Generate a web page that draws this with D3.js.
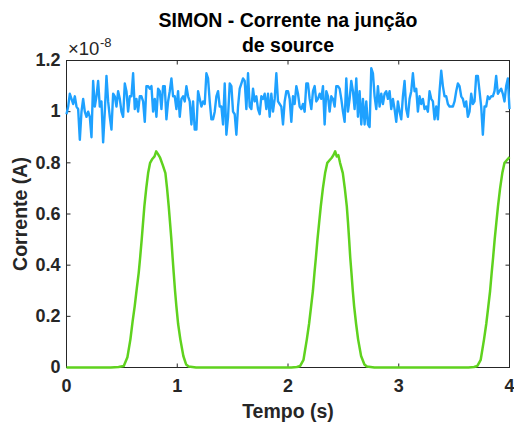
<!DOCTYPE html>
<html lang="pt">
  <head>
    <meta charset="utf-8" />
    <script src="https://d3js.org/d3.v7.min.js"></script>
    <style>
      body {
        margin: 0;
        background: #fff;
      }
      text {
        font-family: "Liberation Sans", Arial, sans-serif;
      }
    </style>
    <title>SIMON - Corrente na junção de source</title>
  </head>

  <body>
    <svg id="chart" width="514" height="424"></svg>

    <script>
      // values in units of 1e-8 A (axis shows x10^-8)
      const xTicks = [0, 1, 2, 3, 4];
      const yTicks = [0, 0.2, 0.4, 0.6, 0.8, 1, 1.2];
      const tEnd = 4;

      // blue: noisy current, evenly sampled from t = 0 to t = 4 s
      const blueCurrent = [
        0.99, 1.02, 1.07, 1.05, 1.03, 1.06, 1.02, 1.01, 0.89, 1.00,
        1.05, 1.00, 0.98, 1.00, 0.98, 0.90, 1.12, 1.02, 1.06, 1.12,
        1.02, 1.04, 0.88, 1.00, 1.14, 1.04, 0.98, 0.93, 1.07, 1.06,
        1.02, 1.08, 1.05, 1.00, 0.98, 1.11, 1.08, 1.00, 1.06, 1.06,
        1.15, 1.01, 1.05, 1.00, 1.06, 1.06, 1.04, 0.96, 1.10, 1.10,
        1.09, 1.10, 1.00, 1.05, 0.98, 1.09, 1.08, 1.01, 1.10, 1.10,
        0.97, 1.04, 1.08, 1.13, 1.06, 1.06, 1.01, 1.08,
        0.98, 1.05, 1.06, 1.04, 1.10, 1.06, 1.04, 0.95, 1.04, 0.93,
        0.93, 1.08, 1.05, 1.02, 1.04, 1.03, 1.15, 1.13, 1.04, 0.97,
        0.97, 1.00, 1.06, 1.08, 1.02, 1.02, 0.95, 1.11, 0.91, 0.98,
        1.11, 1.10, 1.00, 0.99, 0.91, 1.02, 1.09, 1.11, 1.13, 1.12,
        1.01, 1.15, 1.02, 1.01, 1.09, 1.04, 1.06, 1.01, 0.99, 1.06,
        1.05, 1.07, 1.01, 1.07, 0.98, 1.07, 1.00, 1.05, 1.15, 1.04,
        1.03, 1.02, 0.95, 1.04, 1.08, 1.08,
        1.05, 0.96, 1.06, 1.03, 1.10, 1.07, 1.02, 1.01, 1.03, 1.00,
        1.11, 1.11, 1.05, 1.01, 1.08, 1.10, 1.04, 1.05, 1.07, 1.05,
        1.10, 0.95, 1.08, 1.06, 1.00, 1.06, 1.05, 1.02, 1.10, 1.10,
        1.09, 1.05, 1.00, 0.96, 1.13, 1.00, 1.05, 1.12, 1.08, 1.01,
        1.13, 0.98, 1.08, 0.95, 1.05, 0.95, 1.04, 0.95, 0.94, 1.17,
        1.15, 1.06, 1.01, 1.10, 1.02, 1.07, 1.03, 1.07, 1.08, 1.05,
        1.08, 1.01, 1.05, 1.01, 0.96, 1.04,
        1.00, 0.97, 1.06, 1.12, 1.01, 0.98, 1.05, 1.08, 1.15, 1.08,
        1.09, 1.00, 1.06, 1.03, 1.05, 1.01, 1.02, 1.00, 1.08, 1.05,
        1.04, 0.97, 1.02, 0.97, 1.08, 1.16, 1.10, 1.06, 1.06, 1.03,
        1.02, 1.02, 1.02, 1.04, 1.08, 1.11, 1.10, 1.06, 1.05, 1.02,
        1.04, 0.98, 1.00, 1.07, 1.03, 1.04, 1.14, 1.14, 1.08, 1.02,
        0.91, 1.02, 1.02, 1.06, 1.05, 1.06, 1.06, 1.08, 1.14, 1.07,
        1.08, 1.09, 1.07, 1.04, 1.10, 1.13, 1.01,
      ];

      // green: pulses (time in s, current in 1e-8 A)
      const greenTime = [
        0, 0.4, 0.47, 0.517, 0.55, 0.577, 0.597, 0.616, 0.635, 0.652,
        0.665, 0.679, 0.691, 0.703, 0.72, 0.737, 0.755, 0.775, 0.795, 0.81,
        0.825, 0.845, 0.87, 0.893, 0.908, 0.923, 0.935, 0.947, 0.958, 0.968,
        0.98, 0.992, 1.008, 1.028, 1.055, 1.08, 1.103, 1.17,
        2.03, 2.08, 2.11, 2.14, 2.17, 2.19, 2.209, 2.225, 2.239, 2.252,
        2.266, 2.281, 2.296, 2.315, 2.335, 2.355, 2.375, 2.395, 2.41, 2.426,
        2.44, 2.455, 2.47, 2.495, 2.513, 2.531, 2.542, 2.552, 2.562, 2.573,
        2.585, 2.597, 2.615, 2.633, 2.66, 2.69, 2.712, 2.78,
        3.63, 3.68, 3.71, 3.74, 3.77, 3.79, 3.809, 3.825, 3.839, 3.852,
        3.866, 3.881, 3.896, 3.915, 3.935, 3.955, 3.975, 3.995, 4.0,
      ];
      const greenCurrent = [
        0, 0, 0.002, 0.006, 0.04, 0.11, 0.18, 0.24, 0.31, 0.37,
        0.43, 0.5, 0.565, 0.63, 0.7, 0.76, 0.8, 0.815, 0.825, 0.845,
        0.835, 0.82, 0.79, 0.76, 0.7, 0.63, 0.565, 0.5, 0.43, 0.37,
        0.3, 0.24, 0.17, 0.11, 0.045, 0.012, 0.004, 0,
        0, 0.002, 0.006, 0.03, 0.11, 0.17, 0.24, 0.3, 0.37, 0.43,
        0.5, 0.565, 0.63, 0.7, 0.76, 0.8, 0.81, 0.82, 0.83, 0.845,
        0.825, 0.83, 0.8, 0.76, 0.7, 0.63, 0.565, 0.5, 0.43, 0.37,
        0.3, 0.24, 0.17, 0.11, 0.045, 0.012, 0.004, 0,
        0, 0.002, 0.006, 0.03, 0.11, 0.17, 0.24, 0.3, 0.37, 0.43,
        0.5, 0.565, 0.63, 0.7, 0.76, 0.8, 0.81, 0.82, 0.822,
      ];

      const svg = d3.select("svg#chart");
      const ink = "#262626";

      const x = d3.scaleLinear().domain([0, 4]).range([66.5, 509.5]);
      const y = d3.scaleLinear().domain([0, 1.2]).range([367.5, 60.5]);

      const tStep = tEnd / (blueCurrent.length - 1);
      const blueData = blueCurrent.map((v, i) => ({ t: i * tStep, v: v }));
      const greenData = greenTime.map((t, i) => ({ t: t, v: greenCurrent[i] }));

      // axes (ticks pointing inward on all four sides)
      const bottomAxis = svg
        .append("g")
        .attr("transform", `translate(0,${y(0)})`)
        .call(
          d3
            .axisBottom(x)
            .tickValues(xTicks)
            .tickSize(-4)
            .tickPadding(12)
            .offset(0)
            .tickFormat(d3.format("d"))
        );
      const leftAxis = svg
        .append("g")
        .attr("transform", `translate(${x(0)},0)`)
        .call(
          d3
            .axisLeft(y)
            .tickValues(yTicks)
            .tickSize(-4)
            .tickPadding(6)
            .offset(0)
            .tickFormat(d => String(d))
        );
      svg
        .append("g")
        .attr("transform", `translate(0,${y(1.2)})`)
        .call(d3.axisTop(x).tickValues(xTicks).tickSize(-4).offset(0).tickFormat(""));
      svg
        .append("g")
        .attr("transform", `translate(${x(4)},0)`)
        .call(d3.axisRight(y).tickValues(yTicks).tickSize(-4).offset(0).tickFormat(""));

      svg.selectAll(".domain").remove();
      svg.selectAll(".tick line").attr("stroke", ink);

      [bottomAxis, leftAxis].forEach(g =>
        g
          .selectAll("text")
          .attr("fill", ink)
          .attr("font-size", "18px")
          .attr("font-weight", "bold")
      );

      svg
        .append("rect")
        .attr("x", x(0))
        .attr("y", y(1.2))
        .attr("width", x(4) - x(0))
        .attr("height", y(0) - y(1.2))
        .attr("fill", "none")
        .attr("stroke", ink)
        .attr("stroke-width", 1);

      // series
      const line = d3
        .line()
        .x(d => x(d.t))
        .y(d => y(d.v));

      svg
        .append("path")
        .datum(blueData)
        .attr("fill", "none")
        .attr("stroke", "#1ea1ff")
        .attr("stroke-width", 2.4)
        .attr("stroke-linejoin", "round")
        .attr("d", line);

      svg
        .append("path")
        .datum(greenData)
        .attr("fill", "none")
        .attr("stroke", "#5fd21e")
        .attr("stroke-width", 2.5)
        .attr("stroke-linejoin", "round")
        .attr("d", line);

      // exponent
      svg
        .append("text")
        .attr("x", 68)
        .attr("y", 55)
        .attr("font-size", "18.5px")
        .attr("fill", ink)
        .text("×10");
      svg
        .append("text")
        .attr("x", 100)
        .attr("y", 47)
        .attr("font-size", "13px")
        .attr("fill", ink)
        .text("-8");

      // labels
      svg
        .append("text")
        .attr("text-anchor", "middle")
        .attr("x", (x(0) + x(4)) / 2)
        .attr("y", 418)
        .attr("font-size", "19.5px")
        .attr("font-weight", "bold")
        .attr("fill", ink)
        .text("Tempo (s)");

      svg
        .append("text")
        .attr("text-anchor", "middle")
        .attr("transform", `translate(27,${(y(0) + y(1.2)) / 2}) rotate(-90)`)
        .attr("font-size", "19.5px")
        .attr("font-weight", "bold")
        .attr("fill", ink)
        .text("Corrente (A)");

      const title = svg
        .append("text")
        .attr("text-anchor", "middle")
        .attr("font-size", "19.5px")
        .attr("font-weight", "bold")
        .attr("fill", "#000");
      title
        .append("tspan")
        .attr("x", (x(0) + x(4)) / 2)
        .attr("y", 27)
        .text("SIMON - Corrente na junção");
      title
        .append("tspan")
        .attr("x", (x(0) + x(4)) / 2)
        .attr("y", 52)
        .text("de source");
    </script>
  </body>
</html>
